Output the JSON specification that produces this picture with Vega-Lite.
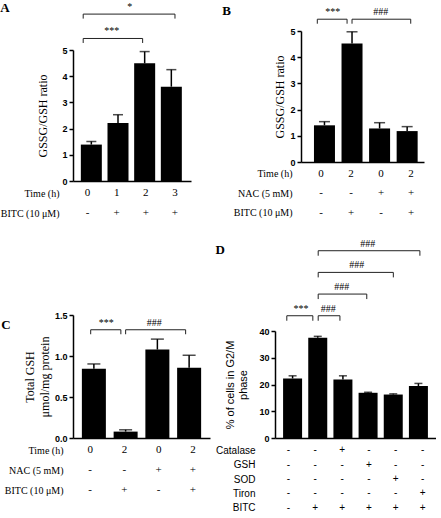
{
"$schema": "https://vega.github.io/schema/vega-lite/v6.json",
"background": "white",
"padding": {"left": 0, "top": 2, "right": 0, "bottom": 0},
"config": {
  "view": {"stroke": null},
  "font": "Liberation Serif",
  "axis": {"grid": false, "domainColor": "black", "domainWidth": 1.5, "tickColor": "black", "tickWidth": 1.5, "tickSize": 4, "labelColor": "black", "titleColor": "black", "labelFont": "Liberation Sans", "labelFontSize": 9, "labelFontWeight": "bold", "labelPadding": 2, "titleFont": "Liberation Serif", "titleFontSize": 12, "titleFontWeight": "normal"},
  "title": {"font": "Liberation Serif", "fontSize": 13, "fontWeight": "bold", "color": "black", "anchor": "start", "frame": "bounds"}
},
"datasets": {
  "barsA": [{"i":0,"value":1.39,"hi":1.51},{"i":1,"value":2.21,"hi":2.53},{"i":2,"value":4.49,"hi":4.94},{"i":3,"value":3.6,"hi":4.25}],
  "barsB": [{"i":0,"value":1.40,"hi":1.54},{"i":1,"value":4.52,"hi":4.97},{"i":2,"value":1.28,"hi":1.50},{"i":3,"value":1.18,"hi":1.35}],
  "barsC": [{"i":0,"value":0.846,"hi":0.903},{"i":1,"value":0.078,"hi":0.10},{"i":2,"value":1.079,"hi":1.206},{"i":3,"value":0.858,"hi":1.009}],
  "barsD": [{"i":0,"value":22.25,"hi":23.25},{"i":1,"value":37.5,"hi":38.0},{"i":2,"value":21.9,"hi":23.25},{"i":3,"value":16.9,"hi":17.1},{"i":4,"value":16.25,"hi":16.5},{"i":5,"value":19.4,"hi":20.4}],
  "brA": [{"from":-0.15,"to":1.89,"mid":0.83,"level":5.44,"label":"***"},{"from":-0.15,"to":3.0,"mid":1.45,"level":6.37,"label":"*"}],
  "brB": [{"from":-0.26,"to":0.82,"mid":0.3,"level":5.45,"label":"***"},{"from":1.0,"to":3.13,"mid":2.04,"level":5.45,"label":"###"}],
  "brC": [{"from":-0.1,"to":0.85,"mid":0.39,"level":1.32,"label":"***"},{"from":1.0,"to":2.89,"mid":1.9,"level":1.32,"label":"###"}],
  "brD": [{"from":-0.06,"to":0.91,"mid":0.47,"level":45.7,"label":"***"},{"from":1.11,"to":1.92,"mid":1.48,"level":45.7,"label":"###"},{"from":1.11,"to":2.92,"mid":1.99,"level":53.8,"label":"###"},{"from":1.11,"to":3.91,"mid":2.55,"level":61.9,"label":"###"},{"from":1.11,"to":4.9,"mid":2.96,"level":70,"label":"###"}],
  "tabA": [{"row":"Time (h)","i":0,"sym":"0"},{"row":"Time (h)","i":1,"sym":"1"},{"row":"Time (h)","i":2,"sym":"2"},{"row":"Time (h)","i":3,"sym":"3"},
           {"row":"BITC (10 μM)","i":0,"sym":"-"},{"row":"BITC (10 μM)","i":1,"sym":"+"},{"row":"BITC (10 μM)","i":2,"sym":"+"},{"row":"BITC (10 μM)","i":3,"sym":"+"}],
  "tabB": [{"row":"Time (h)","i":0,"sym":"0"},{"row":"Time (h)","i":1,"sym":"2"},{"row":"Time (h)","i":2,"sym":"0"},{"row":"Time (h)","i":3,"sym":"2"},
           {"row":"NAC (5 mM)","i":0,"sym":"-"},{"row":"NAC (5 mM)","i":1,"sym":"-"},{"row":"NAC (5 mM)","i":2,"sym":"+"},{"row":"NAC (5 mM)","i":3,"sym":"+"},
           {"row":"BITC (10 μM)","i":0,"sym":"-"},{"row":"BITC (10 μM)","i":1,"sym":"+"},{"row":"BITC (10 μM)","i":2,"sym":"-"},{"row":"BITC (10 μM)","i":3,"sym":"+"}],
  "tabD": [{"row":"Catalase","i":0,"sym":"-"},{"row":"Catalase","i":1,"sym":"-"},{"row":"Catalase","i":2,"sym":"+"},{"row":"Catalase","i":3,"sym":"-"},{"row":"Catalase","i":4,"sym":"-"},{"row":"Catalase","i":5,"sym":"-"},
           {"row":"GSH","i":0,"sym":"-"},{"row":"GSH","i":1,"sym":"-"},{"row":"GSH","i":2,"sym":"-"},{"row":"GSH","i":3,"sym":"+"},{"row":"GSH","i":4,"sym":"-"},{"row":"GSH","i":5,"sym":"-"},
           {"row":"SOD","i":0,"sym":"-"},{"row":"SOD","i":1,"sym":"-"},{"row":"SOD","i":2,"sym":"-"},{"row":"SOD","i":3,"sym":"-"},{"row":"SOD","i":4,"sym":"+"},{"row":"SOD","i":5,"sym":"-"},
           {"row":"Tiron","i":0,"sym":"-"},{"row":"Tiron","i":1,"sym":"-"},{"row":"Tiron","i":2,"sym":"-"},{"row":"Tiron","i":3,"sym":"-"},{"row":"Tiron","i":4,"sym":"-"},{"row":"Tiron","i":5,"sym":"+"},
           {"row":"BITC","i":0,"sym":"-"},{"row":"BITC","i":1,"sym":"+"},{"row":"BITC","i":2,"sym":"+"},{"row":"BITC","i":3,"sym":"+"},{"row":"BITC","i":4,"sym":"+"},{"row":"BITC","i":5,"sym":"+"}]
},
"spacing": 13,
"vconcat": [
 {"hconcat": [
  {"title": {"text": "A", "dy": 17},
   "bounds": "flush", "spacing": 0,
   "vconcat": [
    {"width": 118, "height": 19, "data": {"name": "brA"},
     "layer": [
      {"mark": {"type": "rule", "color": "#222", "strokeWidth": 1},
       "encoding": {"x": {"field": "from", "type": "quantitative", "scale": {"domain": [-0.5, 3.55], "nice": false, "zero": false}, "axis": null},
                    "x2": {"field": "to"},
                    "y": {"field": "level", "type": "quantitative", "scale": {"domain": [5, 5.725], "nice": false, "zero": false}, "axis": null}}},
      {"transform": [{"fold": ["from", "to"], "as": ["end", "xpos"]}],
       "mark": {"type": "rule", "color": "#222", "strokeWidth": 1, "y2Offset": 4.5},
       "encoding": {"x": {"field": "xpos", "type": "quantitative", "scale": {"domain": [-0.5, 3.55], "nice": false, "zero": false}, "axis": null},
                    "y": {"field": "level", "type": "quantitative", "scale": {"domain": [5, 5.725], "nice": false, "zero": false}, "axis": null},
                    "y2": {"field": "level"}}},
      {"mark": {"type": "text", "baseline": "middle", "dy": -7, "font": "Liberation Serif", "fontSize": 10, "color": "black"},
       "encoding": {"x": {"field": "mid", "type": "quantitative", "scale": {"domain": [-0.5, 3.55], "nice": false, "zero": false}, "axis": null},
                    "y": {"field": "level", "type": "quantitative", "scale": {"domain": [5, 5.725], "nice": false, "zero": false}, "axis": null},
                    "text": {"field": "label"}}}
     ]},
    {"width": 118, "height": 131, "data": {"name": "barsA"},
     "layer": [
      {"mark": {"type": "rule", "color": "black", "strokeWidth": 1.5},
       "encoding": {"x": {"field": "i", "type": "quantitative", "scale": {"domain": [-0.5, 3.55], "nice": false, "zero": false}, "axis": {"title": null, "labels": false, "ticks": false}},
                    "y": {"field": "value", "type": "quantitative", "scale": {"domain": [0, 5], "nice": false}, "axis": {"values": [0,1,2,3,4,5], "format": "d", "title": "GSSG/GSH ratio", "titlePadding": 12}},
                    "y2": {"field": "hi"}}},
      {"mark": {"type": "tick", "orient": "horizontal", "size": 10, "thickness": 1.5, "color": "black"},
       "encoding": {"x": {"field": "i", "type": "quantitative", "scale": {"domain": [-0.5, 3.55], "nice": false, "zero": false}, "axis": {"title": null, "labels": false, "ticks": false}},
                    "y": {"field": "hi", "type": "quantitative", "scale": {"domain": [0, 5], "nice": false}, "axis": {"values": [0,1,2,3,4,5], "format": "d", "title": "GSSG/GSH ratio", "titlePadding": 12}}}},
      {"mark": {"type": "bar", "orient": "vertical", "width": 21, "color": "black"},
       "encoding": {"x": {"field": "i", "type": "quantitative", "scale": {"domain": [-0.5, 3.55], "nice": false, "zero": false}, "axis": {"title": null, "labels": false, "ticks": false}},
                    "y": {"field": "value", "type": "quantitative", "stack": null, "scale": {"domain": [0, 5], "nice": false}, "axis": {"values": [0,1,2,3,4,5], "format": "d", "title": "GSSG/GSH ratio", "titlePadding": 12}}}}
     ]},
    {"width": 118, "height": 44, "data": {"name": "tabA"},
     "mark": {"type": "text", "font": "Liberation Serif", "fontSize": 11, "baseline": "middle", "color": "black"},
     "encoding": {"x": {"field": "i", "type": "quantitative", "scale": {"domain": [-0.5, 3.55], "nice": false, "zero": false}, "axis": null},
                  "y": {"field": "row", "type": "nominal", "scale": {"type": "point", "padding": 0.6, "domain": ["Time (h)", "BITC (10 μM)"]},
                        "axis": {"title": null, "domain": false, "ticks": false, "labelFont": "Liberation Serif", "labelFontSize": 10, "labelFontWeight": "normal", "labelPadding": 14}},
                  "text": {"field": "sym"}}}
   ]},
  {"title": {"text": "B", "dx": -11, "dy": 15},
   "bounds": "flush", "spacing": 0,
   "vconcat": [
    {"width": 123, "height": 131,
     "layer": [
      {"data": {"name": "barsB"}, "mark": {"type": "rule", "color": "black", "strokeWidth": 1.5},
       "encoding": {"x": {"field": "i", "type": "quantitative", "scale": {"domain": [-0.67, 3.43], "nice": false, "zero": false}, "axis": {"title": null, "labels": false, "ticks": false}},
                    "y": {"field": "value", "type": "quantitative", "scale": {"domain": [0, 5], "nice": false}, "axis": {"values": [0,1,2,3,4,5], "format": "d", "title": "GSSG/GSH ratio", "titlePadding": 3}},
                    "y2": {"field": "hi"}}},
      {"data": {"name": "barsB"}, "mark": {"type": "tick", "orient": "horizontal", "size": 11, "thickness": 1.5, "color": "black"},
       "encoding": {"x": {"field": "i", "type": "quantitative", "scale": {"domain": [-0.67, 3.43], "nice": false, "zero": false}, "axis": {"title": null, "labels": false, "ticks": false}},
                    "y": {"field": "hi", "type": "quantitative", "scale": {"domain": [0, 5], "nice": false}, "axis": {"values": [0,1,2,3,4,5], "format": "d", "title": "GSSG/GSH ratio", "titlePadding": 3}}}},
      {"data": {"name": "barsB"}, "mark": {"type": "bar", "orient": "vertical", "width": 21, "color": "black"},
       "encoding": {"x": {"field": "i", "type": "quantitative", "scale": {"domain": [-0.67, 3.43], "nice": false, "zero": false}, "axis": {"title": null, "labels": false, "ticks": false}},
                    "y": {"field": "value", "type": "quantitative", "stack": null, "scale": {"domain": [0, 5], "nice": false}, "axis": {"values": [0,1,2,3,4,5], "format": "d", "title": "GSSG/GSH ratio", "titlePadding": 3}}}},
      {"data": {"name": "brB"}, "mark": {"type": "rule", "color": "#222", "strokeWidth": 1},
       "encoding": {"x": {"field": "from", "type": "quantitative", "scale": {"domain": [-0.67, 3.43], "nice": false, "zero": false}, "axis": {"title": null, "labels": false, "ticks": false}},
                    "x2": {"field": "to"},
                    "y": {"field": "level", "type": "quantitative", "scale": {"domain": [0, 5], "nice": false}, "axis": {"values": [0,1,2,3,4,5], "format": "d", "title": "GSSG/GSH ratio", "titlePadding": 3}}}},
      {"data": {"name": "brB"}, "transform": [{"fold": ["from", "to"], "as": ["end", "xpos"]}],
       "mark": {"type": "rule", "color": "#222", "strokeWidth": 1, "y2Offset": 4.5},
       "encoding": {"x": {"field": "xpos", "type": "quantitative", "scale": {"domain": [-0.67, 3.43], "nice": false, "zero": false}, "axis": {"title": null, "labels": false, "ticks": false}},
                    "y": {"field": "level", "type": "quantitative", "scale": {"domain": [0, 5], "nice": false}, "axis": {"values": [0,1,2,3,4,5], "format": "d", "title": "GSSG/GSH ratio", "titlePadding": 3}},
                    "y2": {"field": "level"}}},
      {"data": {"name": "brB"}, "mark": {"type": "text", "baseline": "middle", "dy": -7, "font": "Liberation Serif", "fontSize": 10, "color": "black"},
       "encoding": {"x": {"field": "mid", "type": "quantitative", "scale": {"domain": [-0.67, 3.43], "nice": false, "zero": false}, "axis": {"title": null, "labels": false, "ticks": false}},
                    "y": {"field": "level", "type": "quantitative", "scale": {"domain": [0, 5], "nice": false}, "axis": {"values": [0,1,2,3,4,5], "format": "d", "title": "GSSG/GSH ratio", "titlePadding": 3}},
                    "text": {"field": "label"}}}
     ]},
    {"width": 123, "height": 62.4, "data": {"name": "tabB"},
     "mark": {"type": "text", "font": "Liberation Serif", "fontSize": 11, "baseline": "middle", "color": "black"},
     "encoding": {"x": {"field": "i", "type": "quantitative", "scale": {"domain": [-0.67, 3.43], "nice": false, "zero": false}, "axis": null},
                  "y": {"field": "row", "type": "nominal", "scale": {"type": "point", "padding": 0.6, "domain": ["Time (h)", "NAC (5 mM)", "BITC (10 μM)"]},
                        "axis": {"title": null, "domain": false, "ticks": false, "labelFont": "Liberation Serif", "labelFontSize": 10, "labelFontWeight": "normal", "labelPadding": 9}},
                  "text": {"field": "sym"}}}
   ]}
 ], "spacing": 31},
 {"hconcat": [
  {"title": {"text": "C", "dx": -3, "dy": 25},
   "bounds": "flush", "spacing": 0,
   "vconcat": [
    {"width": 137, "height": 123,
     "layer": [
      {"data": {"name": "barsC"}, "mark": {"type": "rule", "color": "black", "strokeWidth": 1.5},
       "encoding": {"x": {"field": "i", "type": "quantitative", "scale": {"domain": [-0.5, 3.5], "nice": false, "zero": false}, "axis": {"title": null, "labels": false, "ticks": false}},
                    "y": {"field": "value", "type": "quantitative", "scale": {"domain": [0, 1.5], "nice": false}, "axis": {"values": [0, 0.5, 1, 1.5], "format": ".1f", "title": ["Total GSH", "μmol/mg protein"], "titleLineHeight": 15, "titlePadding": 3}},
                    "y2": {"field": "hi"}}},
      {"data": {"name": "barsC"}, "mark": {"type": "tick", "orient": "horizontal", "size": 13, "thickness": 1.5, "color": "black"},
       "encoding": {"x": {"field": "i", "type": "quantitative", "scale": {"domain": [-0.5, 3.5], "nice": false, "zero": false}, "axis": {"title": null, "labels": false, "ticks": false}},
                    "y": {"field": "hi", "type": "quantitative", "scale": {"domain": [0, 1.5], "nice": false}, "axis": {"values": [0, 0.5, 1, 1.5], "format": ".1f", "title": ["Total GSH", "μmol/mg protein"], "titleLineHeight": 15, "titlePadding": 3}}}},
      {"data": {"name": "barsC"}, "mark": {"type": "bar", "orient": "vertical", "width": 24, "color": "black"},
       "encoding": {"x": {"field": "i", "type": "quantitative", "scale": {"domain": [-0.5, 3.5], "nice": false, "zero": false}, "axis": {"title": null, "labels": false, "ticks": false}},
                    "y": {"field": "value", "type": "quantitative", "stack": null, "scale": {"domain": [0, 1.5], "nice": false}, "axis": {"values": [0, 0.5, 1, 1.5], "format": ".1f", "title": ["Total GSH", "μmol/mg protein"], "titleLineHeight": 15, "titlePadding": 3}}}},
      {"data": {"name": "brC"}, "mark": {"type": "rule", "color": "#222", "strokeWidth": 1},
       "encoding": {"x": {"field": "from", "type": "quantitative", "scale": {"domain": [-0.5, 3.5], "nice": false, "zero": false}, "axis": {"title": null, "labels": false, "ticks": false}},
                    "x2": {"field": "to"},
                    "y": {"field": "level", "type": "quantitative", "scale": {"domain": [0, 1.5], "nice": false}, "axis": {"values": [0, 0.5, 1, 1.5], "format": ".1f", "title": ["Total GSH", "μmol/mg protein"], "titleLineHeight": 15, "titlePadding": 3}}}},
      {"data": {"name": "brC"}, "transform": [{"fold": ["from", "to"], "as": ["end", "xpos"]}],
       "mark": {"type": "rule", "color": "#222", "strokeWidth": 1, "y2Offset": 4.5},
       "encoding": {"x": {"field": "xpos", "type": "quantitative", "scale": {"domain": [-0.5, 3.5], "nice": false, "zero": false}, "axis": {"title": null, "labels": false, "ticks": false}},
                    "y": {"field": "level", "type": "quantitative", "scale": {"domain": [0, 1.5], "nice": false}, "axis": {"values": [0, 0.5, 1, 1.5], "format": ".1f", "title": ["Total GSH", "μmol/mg protein"], "titleLineHeight": 15, "titlePadding": 3}},
                    "y2": {"field": "level"}}},
      {"data": {"name": "brC"}, "mark": {"type": "text", "baseline": "middle", "dy": -7, "font": "Liberation Serif", "fontSize": 10, "color": "black"},
       "encoding": {"x": {"field": "mid", "type": "quantitative", "scale": {"domain": [-0.5, 3.5], "nice": false, "zero": false}, "axis": {"title": null, "labels": false, "ticks": false}},
                    "y": {"field": "level", "type": "quantitative", "scale": {"domain": [0, 1.5], "nice": false}, "axis": {"values": [0, 0.5, 1, 1.5], "format": ".1f", "title": ["Total GSH", "μmol/mg protein"], "titleLineHeight": 15, "titlePadding": 3}},
                    "text": {"field": "label"}}}
     ]},
    {"width": 137, "height": 64, "data": {"name": "tabB"},
     "mark": {"type": "text", "font": "Liberation Serif", "fontSize": 11, "baseline": "middle", "color": "black"},
     "encoding": {"x": {"field": "i", "type": "quantitative", "scale": {"domain": [-0.5, 3.5], "nice": false, "zero": false}, "axis": null},
                  "y": {"field": "row", "type": "nominal", "scale": {"type": "point", "padding": 0.6, "domain": ["Time (h)", "NAC (5 mM)", "BITC (10 μM)"]},
                        "axis": {"title": null, "domain": false, "ticks": false, "labelFont": "Liberation Serif", "labelFontSize": 10, "labelFontWeight": "normal", "labelPadding": 10}},
                  "text": {"field": "sym"}}}
   ]},
  {"title": {"text": "D", "dy": 22},
   "bounds": "flush", "spacing": 0,
   "vconcat": [
    {"width": 161, "height": 16, "data": {"name": "brD"},
     "layer": [
      {"mark": {"type": "rule", "color": "#222", "strokeWidth": 1},
       "encoding": {"x": {"field": "from", "type": "quantitative", "scale": {"domain": [-0.5, 5.5], "nice": false, "zero": false}, "axis": null},
                    "x2": {"field": "to"},
                    "y": {"field": "level", "type": "quantitative", "scale": {"domain": [40, 45.98], "nice": false, "zero": false}, "axis": null}}},
      {"transform": [{"fold": ["from", "to"], "as": ["end", "xpos"]}],
       "mark": {"type": "rule", "color": "#222", "strokeWidth": 1, "y2Offset": 5},
       "encoding": {"x": {"field": "xpos", "type": "quantitative", "scale": {"domain": [-0.5, 5.5], "nice": false, "zero": false}, "axis": null},
                    "y": {"field": "level", "type": "quantitative", "scale": {"domain": [40, 45.98], "nice": false, "zero": false}, "axis": null},
                    "y2": {"field": "level"}}},
      {"mark": {"type": "text", "baseline": "middle", "dy": -7, "font": "Liberation Serif", "fontSize": 10, "color": "black"},
       "encoding": {"x": {"field": "mid", "type": "quantitative", "scale": {"domain": [-0.5, 5.5], "nice": false, "zero": false}, "axis": null},
                    "y": {"field": "level", "type": "quantitative", "scale": {"domain": [40, 45.98], "nice": false, "zero": false}, "axis": null},
                    "text": {"field": "label"}}}
     ]},
    {"width": 161, "height": 107, "data": {"name": "barsD"},
     "layer": [
      {"mark": {"type": "rule", "color": "black", "strokeWidth": 1.5},
       "encoding": {"x": {"field": "i", "type": "quantitative", "scale": {"domain": [-0.5, 5.5], "nice": false, "zero": false}, "axis": {"title": null, "labels": false, "ticks": false}},
                    "y": {"field": "value", "type": "quantitative", "scale": {"domain": [0, 40], "nice": false}, "axis": {"values": [0,10,20,30,40], "format": "d", "title": ["% of cells in G2/M", "phase"], "titleFont": "Liberation Sans", "titleFontSize": 11, "titleLineHeight": 13, "titlePadding": 10}},
                    "y2": {"field": "hi"}}},
      {"mark": {"type": "tick", "orient": "horizontal", "size": 8, "thickness": 1.5, "color": "black"},
       "encoding": {"x": {"field": "i", "type": "quantitative", "scale": {"domain": [-0.5, 5.5], "nice": false, "zero": false}, "axis": {"title": null, "labels": false, "ticks": false}},
                    "y": {"field": "hi", "type": "quantitative", "scale": {"domain": [0, 40], "nice": false}, "axis": {"values": [0,10,20,30,40], "format": "d", "title": ["% of cells in G2/M", "phase"], "titleFont": "Liberation Sans", "titleFontSize": 11, "titleLineHeight": 13, "titlePadding": 10}}}},
      {"mark": {"type": "bar", "orient": "vertical", "width": 19, "color": "black"},
       "encoding": {"x": {"field": "i", "type": "quantitative", "scale": {"domain": [-0.5, 5.5], "nice": false, "zero": false}, "axis": {"title": null, "labels": false, "ticks": false}},
                    "y": {"field": "value", "type": "quantitative", "stack": null, "scale": {"domain": [0, 40], "nice": false}, "axis": {"values": [0,10,20,30,40], "format": "d", "title": ["% of cells in G2/M", "phase"], "titleFont": "Liberation Sans", "titleFontSize": 11, "titleLineHeight": 13, "titlePadding": 10}}}}
     ]},
    {"width": 161, "height": 82, "data": {"name": "tabD"},
     "mark": {"type": "text", "font": "Liberation Sans", "fontSize": 10, "baseline": "middle", "color": "black"},
     "encoding": {"x": {"field": "i", "type": "quantitative", "scale": {"domain": [-0.5, 5.5], "nice": false, "zero": false}, "axis": null},
                  "y": {"field": "row", "type": "nominal", "scale": {"type": "point", "padding": 0.83, "domain": ["Catalase", "GSH", "SOD", "Tiron", "BITC"]},
                        "axis": {"title": null, "domain": false, "ticks": false, "labelFont": "Liberation Sans", "labelFontSize": 10, "labelFontWeight": "normal", "labelPadding": 20}},
                  "text": {"field": "sym"}}}
   ]}
 ], "spacing": 5}
]
}
